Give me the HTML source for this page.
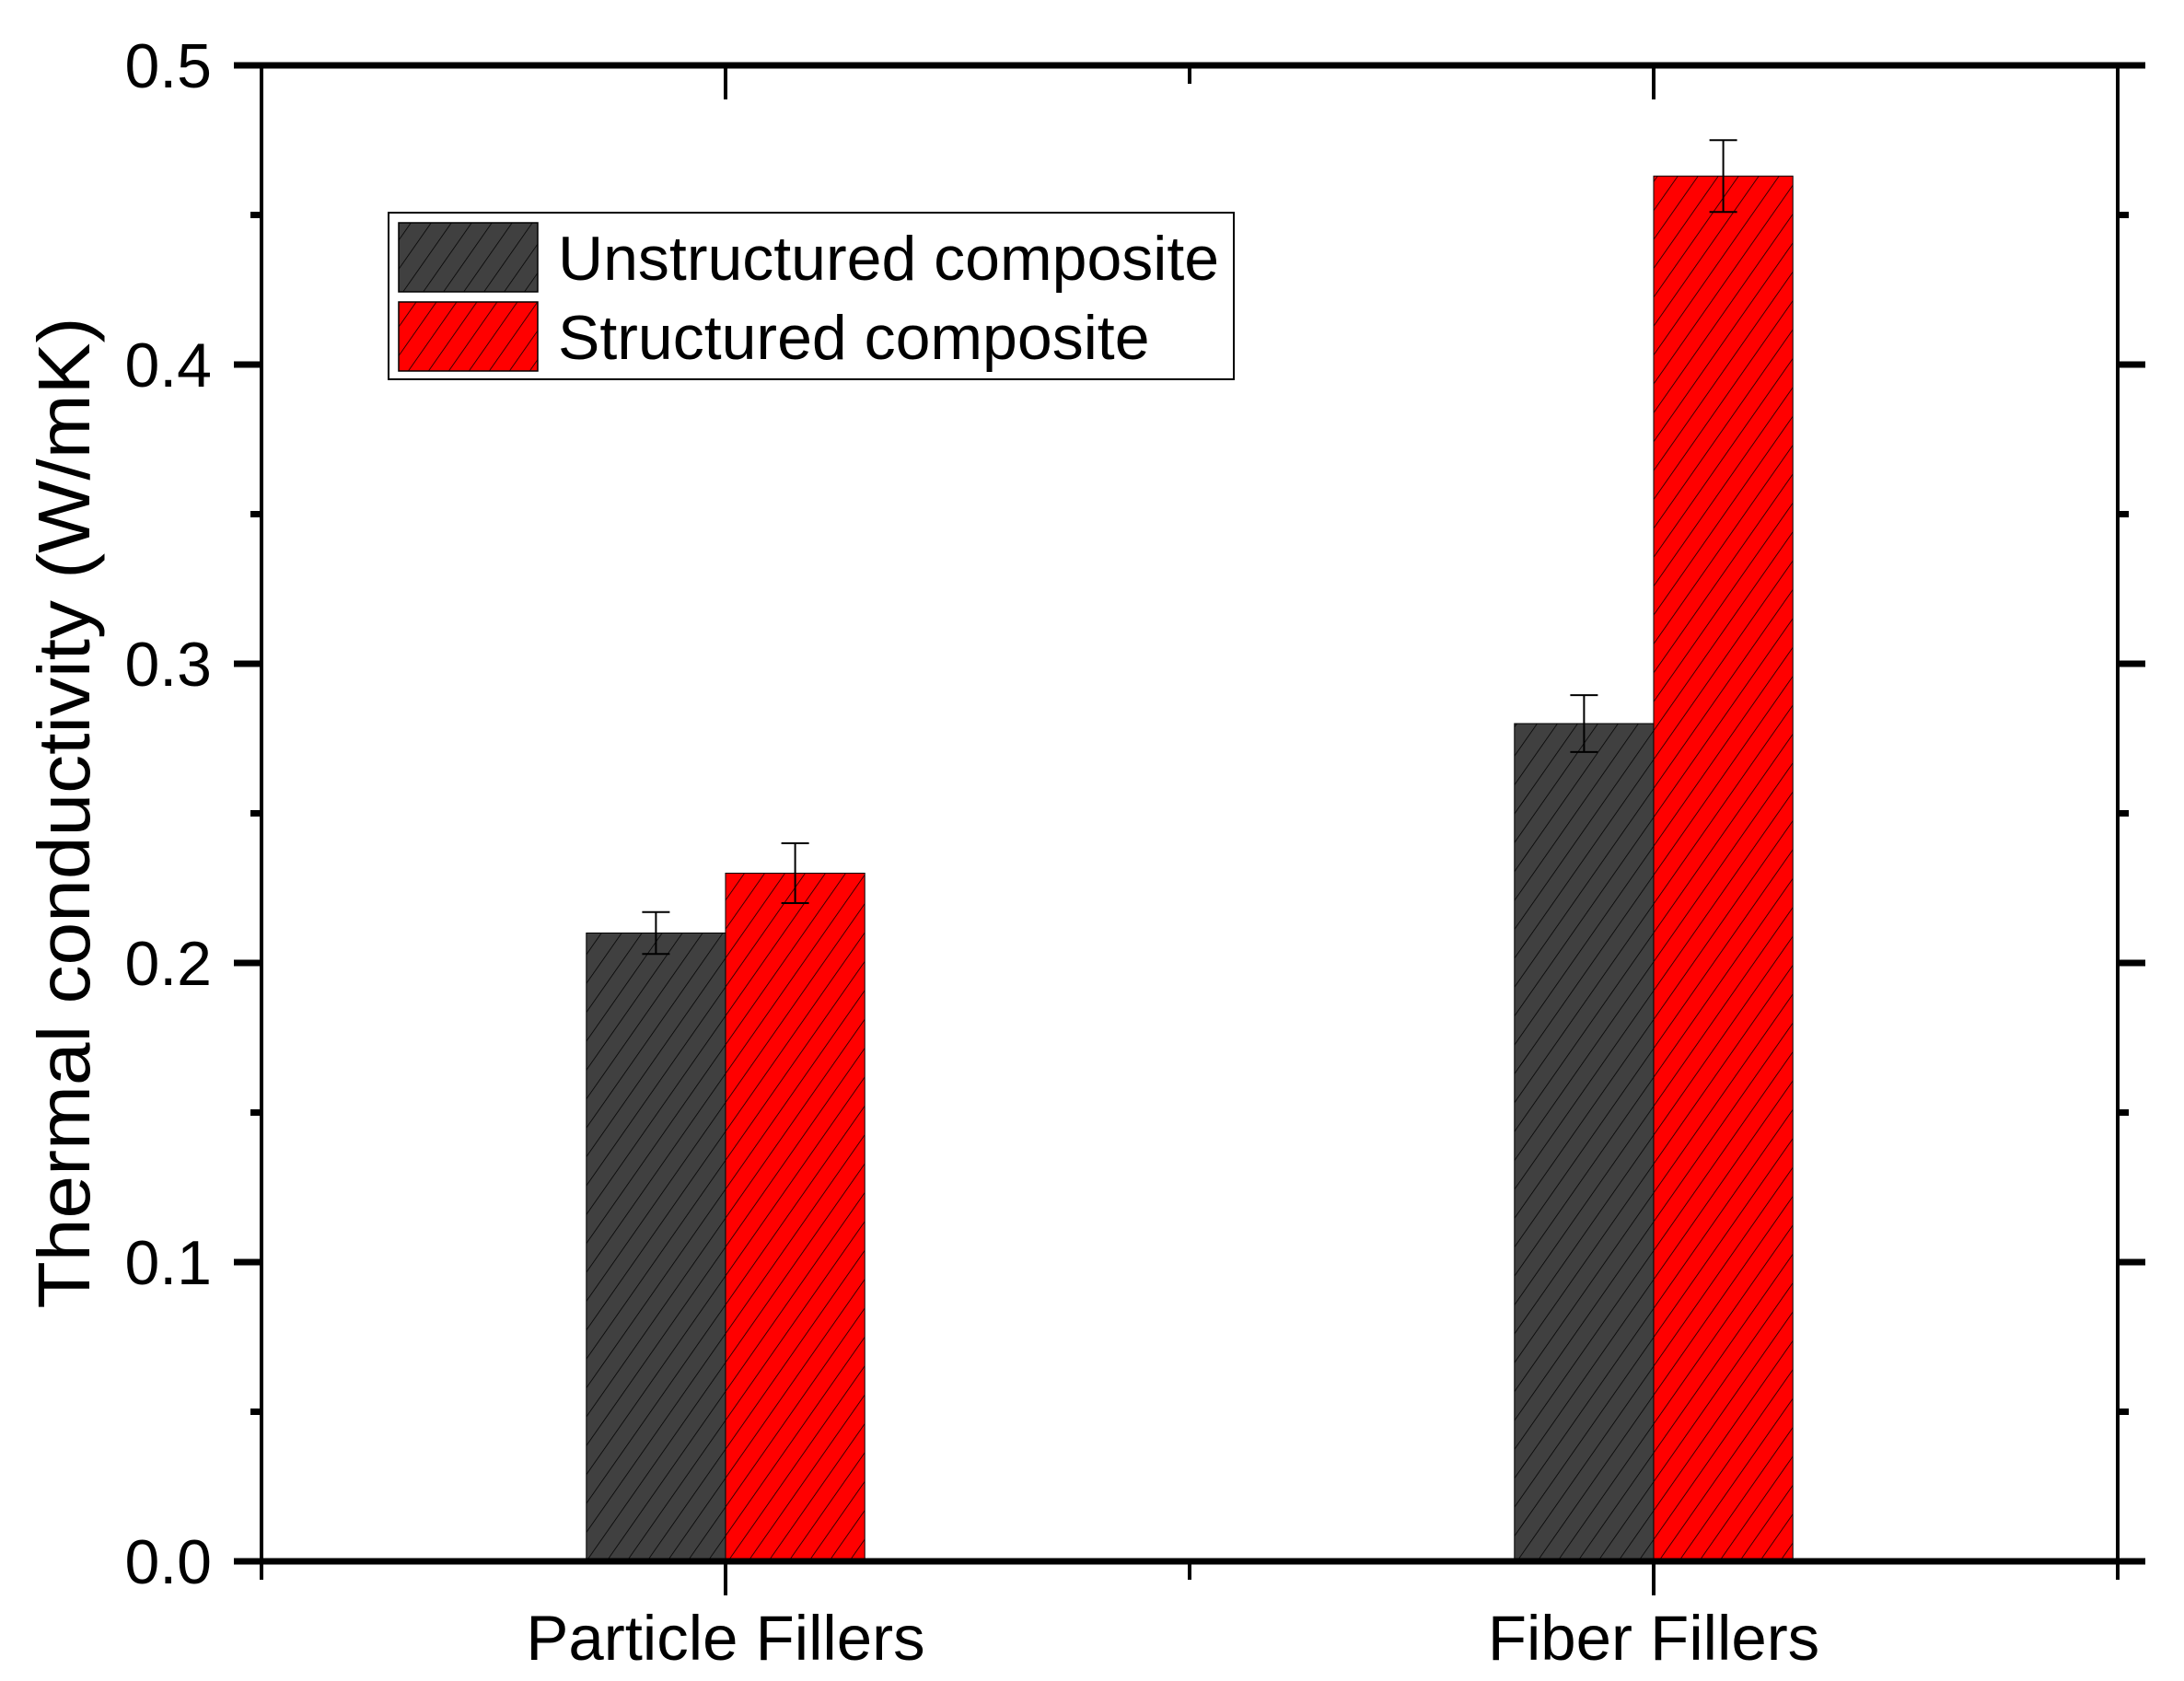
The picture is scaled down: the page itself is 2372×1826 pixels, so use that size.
<!DOCTYPE html>
<html><head><meta charset="utf-8"><style>
html,body{margin:0;padding:0;background:#fff}
svg{display:block;font-family:"Liberation Sans",Arial,sans-serif}
</style></head><body>
<svg id="chart" width="2372" height="1826" viewBox="0 0 2372 1826">
<defs>
<pattern id="hatchDark" patternUnits="userSpaceOnUse" width="18" height="18" patternTransform="rotate(35)">
<rect width="18" height="18" fill="#404040"/><line x1="0" y1="0" x2="0" y2="18" stroke="#000" stroke-width="1.5"/></pattern>
<pattern id="hatchRed" patternUnits="userSpaceOnUse" width="18" height="18" patternTransform="rotate(35)">
<rect width="18" height="18" fill="#ff0000"/><line x1="0" y1="0" x2="0" y2="18" stroke="#000" stroke-width="1.5"/></pattern>
</defs>
<g id="plot"></g>
</svg>
<script>
const categories = ["Particle Fillers", "Fiber Fillers"];
const seriesNames = ["Unstructured composite", "Structured composite"];
const unstructured = [0.21, 0.28];
const structured = [0.23, 0.463];
const unstructuredErr = [0.007, 0.0095];
const structuredErr = [0.01, 0.012];
const yTicks = ["0.0","0.1","0.2","0.3","0.4","0.5"];

const NS="http://www.w3.org/2000/svg";
const g=document.getElementById('plot');
const L=284,R=2300,T=71,B=1696;
const yMin=0,yMax=0.5,xMin=0.5,xMax=2.5;
const y=v=>B-(v-yMin)/(yMax-yMin)*(B-T);
const x=v=>L+(v-xMin)/(xMax-xMin)*(R-L);
const barW=x(1.15)-x(1);
function mk(tag,attrs,parent){const e=document.createElementNS(NS,tag);for(const k in attrs)e.setAttribute(k,attrs[k]);(parent||g).appendChild(e);return e;}

const series=[[unstructured,unstructuredErr,'url(#hatchDark)',-1],[structured,structuredErr,'url(#hatchRed)',0]];
series.forEach((s,si)=>{
  categories.forEach((c,ci)=>{
    const cx=x(ci+1);
    const x0=cx+s[3]*barW;
    const r=mk('rect',{x:x0,y:y(s[0][ci]),width:barW,height:y(0)-y(s[0][ci]),fill:s[2],stroke:'#000','stroke-width':1});
    
    
    const mx=x0+barW/2, top=y(s[0][ci]+s[1][ci]), bot=y(s[0][ci]-s[1][ci]);
    const eg=mk('g',{stroke:'#000','stroke-width':2});
    
    
    mk('line',{x1:mx,x2:mx,y1:top,y2:bot},eg);
    mk('line',{x1:mx-15,x2:mx+15,y1:top,y2:top},eg);
    mk('line',{x1:mx-15,x2:mx+15,y1:bot,y2:bot},eg);
  });
});

const ax=mk('g',{stroke:'#000'});


mk('line',{x1:L,x2:L,y1:T-3,y2:B+3,'stroke-width':4},ax);
mk('line',{x1:R,x2:R,y1:T-3,y2:B+3,'stroke-width':4},ax);
mk('line',{x1:L-30,x2:R+30,y1:T,y2:T,'stroke-width':7},ax);
mk('line',{x1:L-30,x2:R+30,y1:B,y2:B,'stroke-width':7},ax);

yTicks.forEach((t,i)=>{
  const v=parseFloat(t), yy=y(v);
  mk('line',{x1:L-30,x2:L,y1:yy,y2:yy,'stroke-width':7},ax);
  mk('line',{x1:R,x2:R+30,y1:yy,y2:yy,'stroke-width':7},ax);
  if(i<yTicks.length-1){const ym=y(v+0.05);
    mk('line',{x1:L-12,x2:L,y1:ym,y2:ym,'stroke-width':7},ax);
    mk('line',{x1:R,x2:R+12,y1:ym,y2:ym,'stroke-width':7},ax);}
  const tx=mk('text',{x:230,y:yy+24,'text-anchor':'end','font-size':68,fill:'#000'});
  tx.textContent=t;
  
  
});
[0.5,1,1.5,2,2.5].forEach(v=>{
  const xx=x(v), major=Number.isInteger(v);
  mk('line',{x1:xx,x2:xx,y1:B,y2:B+(major?37:20),'stroke-width':4},ax);
  mk('line',{x1:xx,x2:xx,y1:T,y2:T+(major?37:20),'stroke-width':4},ax);
});
categories.forEach((c,i)=>{
  const tx=mk('text',{x:x(i+1),y:1803,'text-anchor':'middle','font-size':69,fill:'#000'});
  tx.textContent=c;
  
  
});
const yt=mk('text',{transform:'translate(97,883) rotate(-90)','text-anchor':'middle','font-size':80,fill:'#000',textLength:1077,lengthAdjust:'spacingAndGlyphs'});
yt.textContent='Thermal conductivity (W/mK)';



const lg=mk('g',{});


mk('rect',{x:422,y:231,width:918,height:181,fill:'#fff',stroke:'#000','stroke-width':2},lg);
const fills=['url(#hatchDark)','url(#hatchRed)'];
seriesNames.forEach((n,i)=>{
  const e=mk('g',{},lg);
  
  
  mk('rect',{x:433,y:242+i*86,width:151,height:75,fill:fills[i],stroke:'#000','stroke-width':1.5},e);
  const t=mk('text',{x:606,y:304+i*86,'font-size':68,fill:'#000'},e);
  t.textContent=n;
});
</script>
</body></html>
